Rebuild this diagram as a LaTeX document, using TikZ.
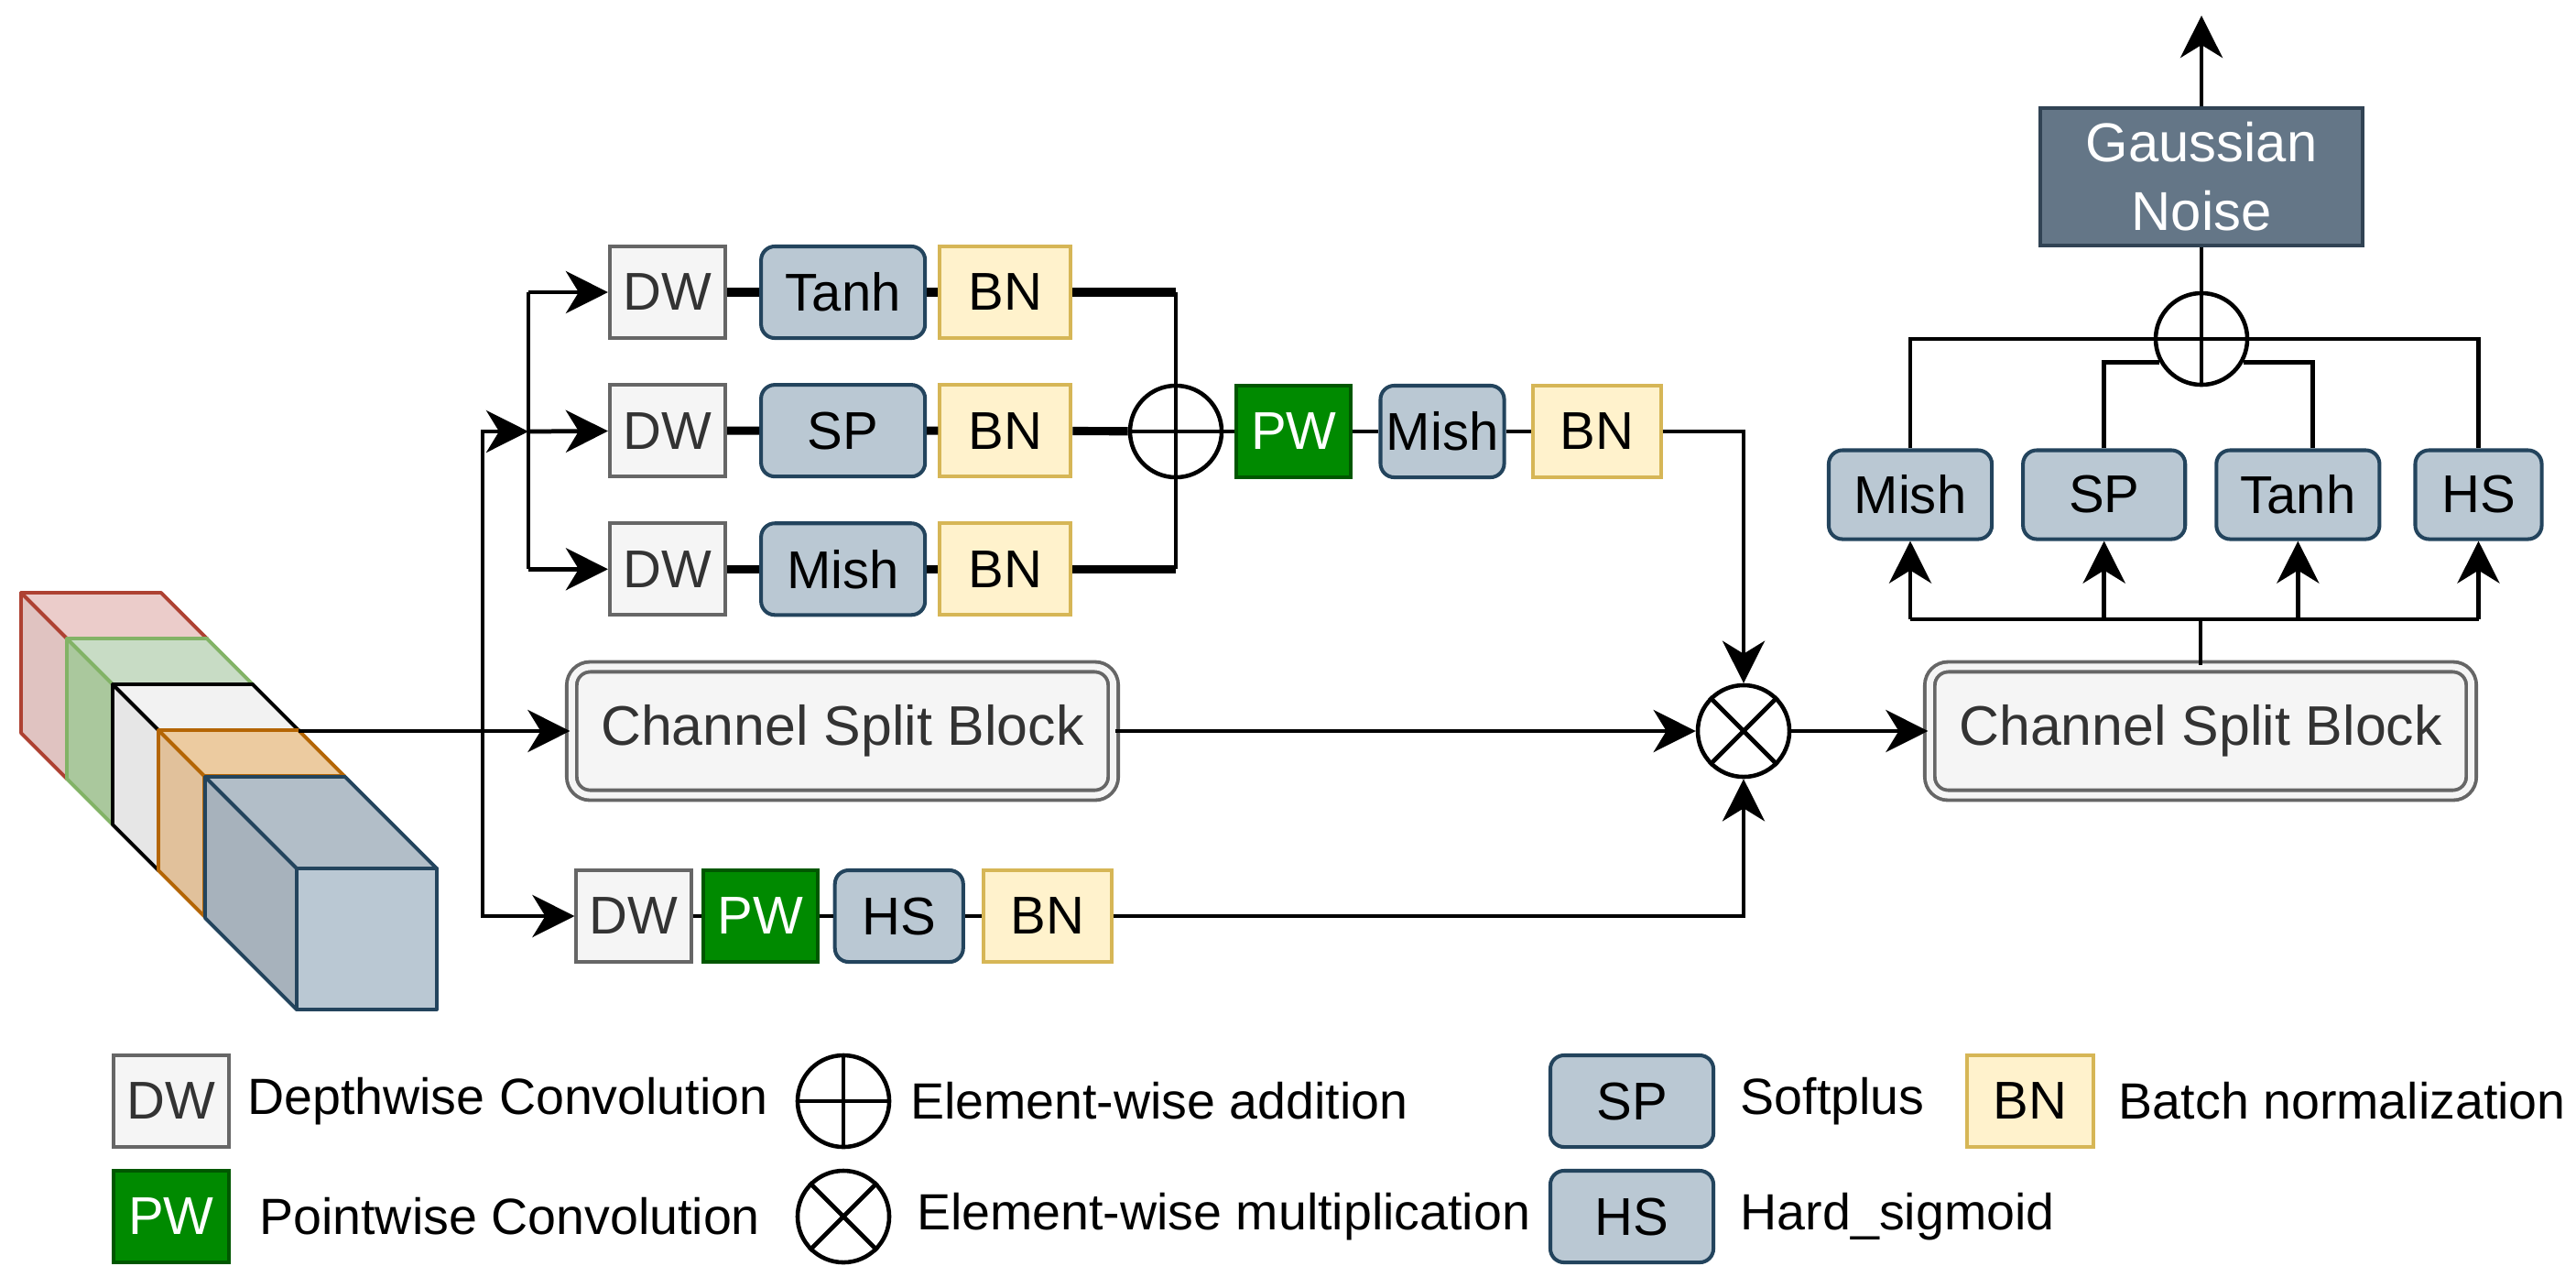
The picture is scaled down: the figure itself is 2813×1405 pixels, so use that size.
\documentclass[tikz,border=0pt]{standalone}
\usepackage{fontspec}
\setmainfont{Liberation Sans}
\usepackage{xcolor}
\usepackage{tikz}
\usetikzlibrary{positioning, arrows.meta}

\definecolor{dwfill}{HTML}{F5F5F5}
\definecolor{dwline}{HTML}{666666}
\definecolor{dwtext}{HTML}{333333}
\definecolor{actfill}{HTML}{BAC8D3}
\definecolor{actline}{HTML}{23445D}
\definecolor{bnfill}{HTML}{FFF2CC}
\definecolor{bnline}{HTML}{D6B656}
\definecolor{pwfill}{HTML}{008A00}
\definecolor{pwline}{HTML}{005700}
\definecolor{gnfill}{HTML}{647687}
\definecolor{gnline}{HTML}{314354}
% feature map slabs
\definecolor{redtop}{HTML}{EBCCCA}
\definecolor{redside}{HTML}{E0C3C1}
\definecolor{redline}{HTML}{AE4132}
\definecolor{greentop}{HTML}{C8DCC5}
\definecolor{greenside}{HTML}{AAC89D}
\definecolor{greenline}{HTML}{82B366}
\definecolor{whitetop}{HTML}{F2F2F2}
\definecolor{whiteside}{HTML}{E6E6E6}
\definecolor{orangetop}{HTML}{ECCBA0}
\definecolor{orangeside}{HTML}{E1C19B}
\definecolor{orangeline}{HTML}{B46504}
\definecolor{bluetop}{HTML}{B2BEC8}
\definecolor{blueside}{HTML}{A7B2BC}
\definecolor{bluefront}{HTML}{BAC8D3}

\begin{document}
\begin{tikzpicture}[
    x=0.01cm, y=-0.01cm,
    font=\fontsize{16.5}{19}\selectfont,
    box/.style={draw, line width=1.15pt, minimum height=1.00cm, inner sep=1pt, align=center},
    dw/.style={box, fill=dwfill, draw=dwline, text=dwtext, minimum width=1.26cm},
    pw/.style={box, fill=pwfill, draw=pwline, text=white, minimum width=1.25cm},
    act/.style={box, rounded corners=0.15cm, fill=actfill, draw=actline, minimum width=1.79cm},
    bn/.style={box, fill=bnfill, draw=bnline, minimum width=1.43cm},
    csb/.style={draw=dwline, line width=1.1pt, double=dwfill, double distance=0.07cm, rounded corners=0.2cm, fill=dwfill, text=dwtext, minimum width=5.91cm, minimum height=1.40cm, font=\fontsize{17.3}{20}\selectfont},
    op/.style={circle, draw, line width=1.3pt, minimum size=1.0cm, inner sep=0pt},
    conn/.style={line width=1.35pt},
    heavy/.style={line width=2.6pt},
    arrow/.style={conn, -{Stealth[length=0.46cm, width=0.46cm, inset=0.14cm]}},
    slab/.style={line width=1.1pt, line join=round},
    legend/.style={inner sep=0pt, anchor=west, font=\fontsize{15.8}{19}\selectfont}
]
\useasboundingbox (0,0) rectangle (2813,1405);

% input feature maps
\foreach \i/\top/\side/\edge in {0/redtop/redside/redline, 1/greentop/greenside/greenline, 2/whitetop/whiteside/black, 3/orangetop/orangeside/orangeline} {
  \begin{scope}[shift={(23+50*\i,647+50*\i)}]
    \filldraw[slab, fill=\side, draw=\edge] (50,50) rectangle (203,203);
    \filldraw[slab, fill=\top, draw=\edge] (0,0) -- (153,0) -- (203,50) -- (50,50) -- cycle;
    \filldraw[slab, fill=\side, draw=\edge] (0,0) -- (50,50) -- (50,203) -- (0,153) -- cycle;
  \end{scope}
}
\begin{scope}[shift={(224,848)}]
  \filldraw[slab, fill=bluefront, draw=actline] (100,100) rectangle (253,254);
  \filldraw[slab, fill=bluetop, draw=actline] (0,0) -- (153,0) -- (253,100) -- (100,100) -- cycle;
  \filldraw[slab, fill=blueside, draw=actline] (0,0) -- (100,100) -- (100,254) -- (0,154) -- cycle;
\end{scope}

% three activation branches
\node[dw] (dw1) at (729,319) {DW};
\node[act, right=0.35cm of dw1] (tanh1) {Tanh};
\node[bn, right=0.12cm of tanh1] (bn1) {BN};
\node[dw, below=0.47cm of dw1] (dw2) {DW};
\node[act, right=0.35cm of dw2] (sp1) {SP};
\node[bn, right=0.12cm of sp1] (bn2) {BN};
\node[dw, below=0.47cm of dw2] (dw3) {DW};
\node[act, right=0.35cm of dw3] (mish1) {Mish};
\node[bn, right=0.12cm of mish1] (bn3) {BN};

\node[op] (add1) at (1284,471) {};
\node[pw, right=0.12cm of add1] (pw1) {PW};
\node[act, minimum width=1.35cm, right=0.28cm of pw1] (mishm) {Mish};
\node[bn, minimum width=1.40cm, right=0.27cm of mishm] (bnm) {BN};

% middle and bottom paths
\node[csb] (csb1) at (920,798) {Channel Split Block};
\node[op] (mul) at (1904,798) {};
\node[csb] (csb2) at (2403,798) {Channel Split Block};

\node[dw, minimum width=1.25cm] (dw4) at (692,1000) {DW};
\node[pw, right=0.09cm of dw4] (pw4) {PW};
\node[act, minimum width=1.40cm, right=0.15cm of pw4] (hs1) {HS};
\node[bn, minimum width=1.40cm, right=0.18cm of hs1] (bn4) {BN};

% output head
\node[act, minimum width=1.78cm, minimum height=0.97cm] (mish2) at (2086,540) {Mish};
\node[act, minimum width=1.77cm, minimum height=0.97cm, right=0.30cm of mish2] (sp2) {SP};
\node[act, minimum width=1.78cm, minimum height=0.97cm, right=0.30cm of sp2] (tanh2) {Tanh};
\node[act, minimum width=1.38cm, minimum height=0.97cm, right=0.35cm of tanh2] (hs2) {HS};
\node[op] (add2) at (2404,370) {};
\node[box, fill=gnfill, draw=gnline, text=white, minimum width=3.52cm, minimum height=1.49cm,
      font=\fontsize{17}{21.3}\selectfont] (gauss) at (2404,193) {Gaussian\\Noise};
\coordinate (out) at (2404,17);

% connectors
\coordinate (cubeout) at (326,798);
\coordinate (fork) at (527,798);
\coordinate (split) at (577,471);
\draw[arrow] (cubeout) -- (csb1);
\draw[arrow] (fork) |- (split);
\draw[arrow] (fork) |- (dw4);
\draw[conn] (split |- dw1) -- (split |- dw3);
\draw[arrow] (split |- dw1) -- (dw1);
\draw[arrow] (split) -- (dw2);
\draw[arrow] (split |- dw3) -- (dw3);

\draw[heavy] (dw1) -- (tanh1) -- (bn1) -- (bn1 -| add1);
\draw[heavy] (dw2) -- (sp1) -- (bn2) -- (add1);
\draw[heavy] (dw3) -- (mish1) -- (bn3) -- (bn3 -| add1);
\draw[conn] (bn1 -| add1) -- (bn3 -| add1);
\draw[conn] (add1.west) -- (pw1);
\draw[conn] (pw1) -- (mishm) -- (bnm);
\draw[arrow] (bnm) -| (mul);
\draw[arrow] (csb1) -- (mul);
\draw[conn] (dw4) -- (pw4) -- (hs1) -- (bn4);
\draw[arrow] (bn4) -| (mul);
\draw[conn] (mul.north east) -- (mul.south west) (mul.north west) -- (mul.south east);
\draw[arrow] (mul) -- (csb2);

\draw[conn] (csb2.north) -- ++(0,-50) coordinate (bus);
\draw[conn] (bus -| mish2) -- (bus -| hs2);
\foreach \n in {mish2, sp2, tanh2, hs2}
  \draw[arrow] (bus -| \n) -- (\n);
\draw[conn] (mish2.north) |- (hs2.north |- add2.center) -- (hs2.north);
\draw[conn] (sp2.north) |- (add2.209);
\draw[conn] ([xshift=0.16cm]tanh2.north) |- (add2.331);
\draw[conn] (add2.south) -- (gauss);
\draw[arrow] (gauss) -- (out);

% legend
\node[dw, minimum width=1.25cm] (legdw) at (187,1202) {DW};
\node[legend, right=0.18cm of legdw] (legdwt) {Depthwise Convolution};
\node[op] (legadd) at (921,1202) {};
\draw[conn] (legadd.north) -- (legadd.south) (legadd.west) -- (legadd.east);
\node[legend, right=0.20cm of legadd] (legaddt) {Element-wise addition};
\node[act, minimum width=1.78cm] (legsp) at (1782,1202) {SP};
\node[legend, right=0.27cm of legsp] (legspt) {Softplus};
\node[bn, minimum width=1.38cm] (legbn) at (2217,1202) {BN};
\node[legend, right=0.25cm of legbn] (legbnt) {Batch normalization};

\node[pw] (legpw) at (187,1328) {PW};
\node[legend, right=0.31cm of legpw] (legpwt) {Pointwise Convolution};
\node[op] (legmul) at (921,1328) {};
\draw[conn] (legmul.north east) -- (legmul.south west) (legmul.north west) -- (legmul.south east);
\node[legend, right=0.27cm of legmul] (legmult) {Element-wise multiplication};
\node[act, minimum width=1.78cm] (leghs) at (1782,1328) {HS};
\node[legend, right=0.27cm of leghs] (leghst) {Hard\_sigmoid};
\end{tikzpicture}
\end{document}
